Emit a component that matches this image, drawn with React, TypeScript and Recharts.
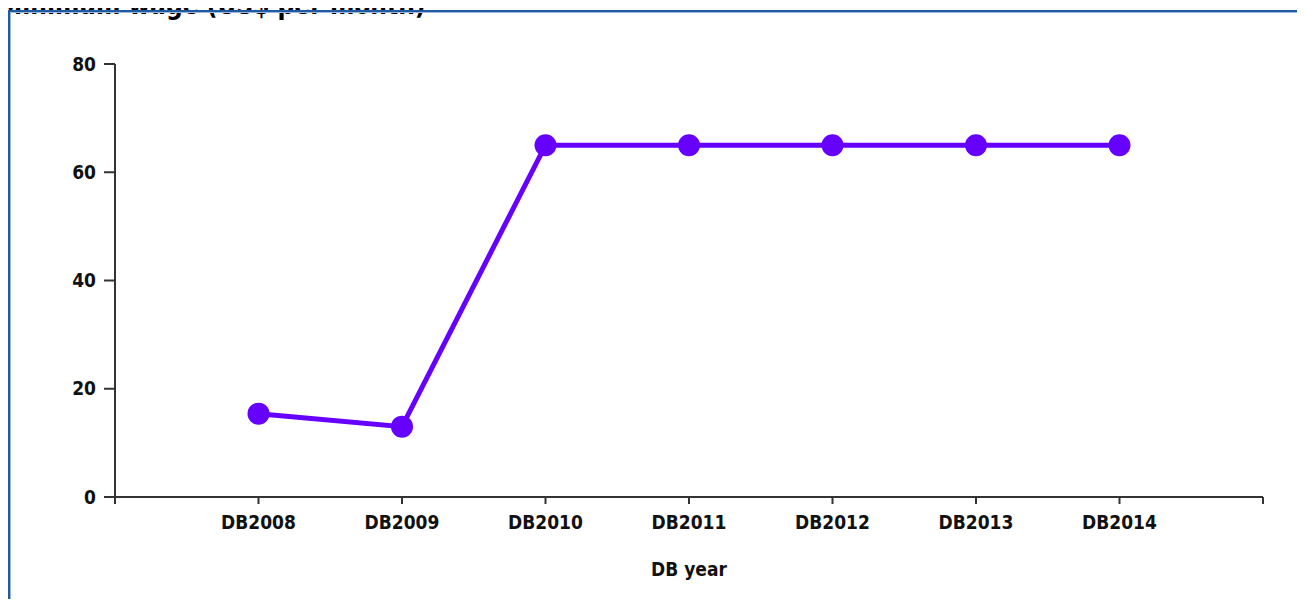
import React from 'react';
import { LineChart, Line, XAxis, YAxis } from 'recharts';

const categories = ['DB2008', 'DB2009', 'DB2010', 'DB2011', 'DB2012', 'DB2013', 'DB2014'];
const minimumWage = [15.4, 13.0, 65, 65, 65, 65, 65];
const yTicks = [0, 20, 40, 60, 80];
const title = 'Minimum wage (US$ per month)';
const xTitle = 'DB year';

const data = categories.map((c, i) => ({ pos: i + 1, name: c, value: minimumWage[i] }));
const xTicks = Array.from({ length: categories.length + 2 }, (_, i) => i);

const FONT = '"DejaVu Sans Condensed", "DejaVu Sans", sans-serif';
const AXIS = '#333333';

export default function App() {
  return (
    <div style={{ position: 'relative', width: 1305, height: 607, margin: -8, overflow: 'hidden', background: '#fff' }}>
      <div
        style={{
          position: 'absolute',
          left: -1,
          top: -8,
          fontFamily: FONT,
          fontWeight: 'bold',
          fontSize: 26,
          lineHeight: '26px',
          color: '#000',
          whiteSpace: 'nowrap',
        }}
      >
        {title}
      </div>
      <div
        style={{
          position: 'absolute',
          left: 8,
          top: 10,
          width: 1320,
          height: 620,
          borderTop: '2px solid #1f5aa3',
          borderLeft: '2px solid #1f5aa3',
          boxShadow: 'inset 1px 1px 0 #9ab8dc',
        }}
      />
      <div style={{ position: 'absolute', left: 0, top: 0 }}>
        <LineChart width={1305} height={607} data={data} margin={{ top: 64, right: 42, bottom: 20, left: 55 }}>
          <XAxis
            dataKey="pos"
            type="number"
            domain={[0, categories.length + 1]}
            ticks={xTicks}
            interval={0}
            tickFormatter={(v: number) => (v >= 1 && v <= categories.length ? categories[v - 1] : '')}
            tick={{ fill: '#111', fontFamily: FONT, fontWeight: 'bold', fontSize: 19 }}
            tickSize={7}
            tickMargin={12}
            stroke={AXIS}
            strokeWidth={2}
            height={90}
            label={{
              value: xTitle,
              position: 'insideBottom',
              offset: 11,
              fill: '#111',
              fontFamily: FONT,
              fontWeight: 'bold',
              fontSize: 19,
            }}
          />
          <YAxis
            type="number"
            domain={[0, 80]}
            ticks={yTicks}
            interval={0}
            tick={{ fill: '#111', fontFamily: FONT, fontWeight: 'bold', fontSize: 19 }}
            tickSize={11}
            tickMargin={8}
            stroke={AXIS}
            strokeWidth={2}
            width={60}
          />
          <Line
            dataKey="value"
            stroke="#6600ff"
            strokeWidth={5}
            dot={{ r: 11, fill: '#6600ff', stroke: '#6600ff', strokeWidth: 0 }}
            activeDot={false}
            isAnimationActive={false}
          />
        </LineChart>
      </div>
    </div>
  );
}
